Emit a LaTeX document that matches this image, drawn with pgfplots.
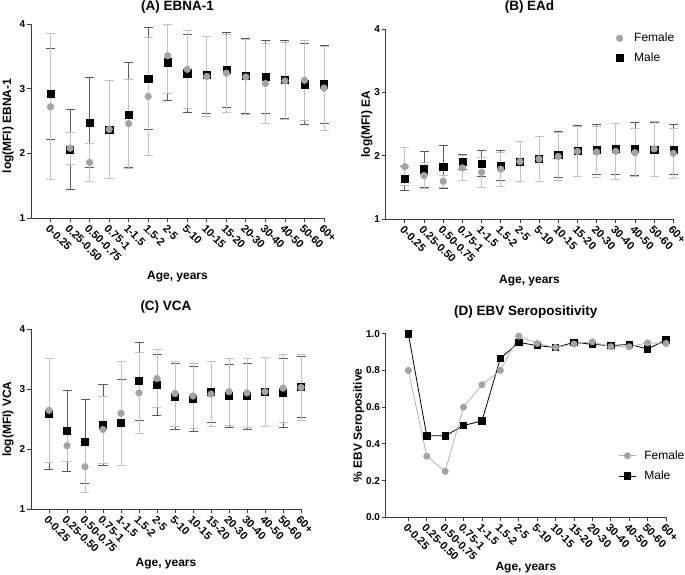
\documentclass[border=0pt]{standalone}
\usepackage{fontspec}
\setmainfont{Liberation Sans}
\usepackage{graphicx}
\usepackage{pgfplots}
\pgfplotsset{compat=1.18}
\usepackage{pgfplotstable}
\definecolor{femc}{HTML}{A3A3A3}
\definecolor{femerr}{HTML}{C2C2C2}
\definecolor{maleerr}{HTML}{5A5A5A}
\definecolor{axc}{HTML}{3A3A3A}

\pgfplotstableread{
x y ep em
0 2.92 0.70 0.70
1 2.06 0.62 0.62
2 2.48 0.70 0.70
3 2.37 0.76 0.76
4 2.60 0.81 0.81
5 3.16 0.79 0.79
6 3.41 0.59 0.59
7 3.24 0.60 0.60
8 3.21 0.60 0.60
9 3.29 0.58 0.58
10 3.20 0.58 0.58
11 3.18 0.56 0.56
12 3.14 0.60 0.60
13 3.07 0.63 0.63
14 3.07 0.60 0.60
}\ebnaM
\pgfplotstableread{
x y ep em
0 2.72 1.13 1.13
1 2.08 0.25 0.25
2 1.86 0.30 0.30
3 2.37 0.76 0.76
4 2.46 0.69 0.69
5 2.88 0.91 0.91
6 3.51 0.49 0.59
7 3.30 0.60 0.60
8 3.19 0.62 0.62
9 3.24 0.60 0.60
10 3.18 0.58 0.58
11 3.08 0.62 0.62
12 3.12 0.60 0.60
13 3.13 0.62 0.62
14 3.01 0.65 0.65
}\ebnaF
\pgfplotstableread{
x y ep em
0 1.64 0.19 0.19
1 1.79 0.28 0.28
2 1.83 0.34 0.34
3 1.91 0.12 0.12
4 1.88 0.21 0.21
5 1.85 0.24 0.24
6 1.91 0.32 0.32
7 1.95 0.35 0.35
8 2.02 0.36 0.36
9 2.08 0.40 0.40
10 2.10 0.39 0.39
11 2.11 0.40 0.40
12 2.11 0.41 0.41
13 2.10 0.43 0.43
14 2.10 0.39 0.39
}\eaM
\pgfplotstableread{
x y ep em
0 1.83 0.30 0.30
1 1.69 0.20 0.20
2 1.60 0.10 0.10
3 1.81 0.20 0.20
4 1.74 0.23 0.23
5 1.79 0.27 0.27
6 1.91 0.32 0.32
7 1.95 0.35 0.35
8 1.99 0.38 0.38
9 2.07 0.40 0.40
10 2.06 0.40 0.40
11 2.07 0.44 0.44
12 2.05 0.38 0.38
13 2.11 0.43 0.43
14 2.04 0.39 0.39
}\eaF
\pgfplotstableread{
x y ep em
0 2.59 0.92 0.92
1 2.31 0.67 0.67
2 2.13 0.70 0.70
3 2.41 0.67 0.67
4 2.45 0.72 0.72
5 3.14 0.65 0.65
6 3.08 0.51 0.51
7 2.88 0.55 0.55
8 2.84 0.54 0.54
9 2.96 0.51 0.51
10 2.89 0.53 0.53
11 2.89 0.55 0.55
12 2.96 0.57 0.57
13 2.94 0.58 0.58
14 3.04 0.51 0.51
}\vcaM
\pgfplotstableread{
x y ep em
0 2.65 0.87 0.87
1 2.06 0.26 0.26
2 1.71 0.42 0.42
3 2.33 0.56 0.56
4 2.60 0.86 0.86
5 2.94 0.67 0.67
6 3.18 0.48 0.48
7 2.93 0.54 0.54
8 2.89 0.54 0.54
9 2.92 0.54 0.54
10 2.96 0.56 0.56
11 2.94 0.57 0.57
12 2.96 0.57 0.57
13 3.02 0.57 0.57
14 3.03 0.55 0.55
}\vcaF
\pgfplotstableread{
x y
0 1.000
1 0.444
2 0.444
3 0.500
4 0.525
5 0.866
6 0.953
7 0.935
8 0.925
9 0.953
10 0.942
11 0.935
12 0.942
13 0.917
14 0.966
}\seroM
\pgfplotstableread{
x y
0 0.800
1 0.333
2 0.250
3 0.600
4 0.722
5 0.800
6 0.987
7 0.947
8 0.925
9 0.944
10 0.956
11 0.929
12 0.929
13 0.950
14 0.947
}\seroF

\pgfplotsset{
 panel/.style={
  scale only axis,
  axis lines=left,
  axis line style={-, color=axc, line width=0.8pt},
  every tick/.style={color=axc, line width=0.8pt},
  tick align=outside,
  major tick length=4pt,
  xmin=-1, xmax=14,
  xtick={0,...,14},
  xticklabels={0-0.25,0.25-0.50,0.50-0.75,0.75-1,1-1.5,1.5-2,2-5,5-10,10-15,15-20,20-30,30-40,40-50,50-60,60+},
  xticklabel style={rotate=-45, anchor=north west, inner sep=1pt, font=\fontsize{11}{11}\selectfont\bfseries},
  yticklabel style={inner sep=1.5pt, font=\fontsize{10}{10}\selectfont\bfseries},
  /pgf/number format/assume math mode=true,
  title style={font=\fontsize{13.5}{14}\selectfont\bfseries, anchor=center},
  xlabel={Age, years},
  label style={font=\fontsize{12}{12}\selectfont\bfseries},
  xlabel style={at={(axis description cs:0.5,0)}, anchor=center},
  ylabel style={at={(axis description cs:0,0.5)}, anchor=center},
  clip=false,
  reverse legend,
  legend cell align=left,
  legend style={draw=none, fill=none, font=\fontsize{12}{12}\selectfont, row sep=5pt, inner sep=0pt,
    /tikz/every odd column/.append style={column sep=9pt}},
 },
 malepts/.style={only marks, mark=square*, mark size=3.6pt, color=black, mark options={draw=black, fill=black},
   error bars/.cd, y dir=both, y explicit,
   error bar style={color=maleerr, line width=0.8pt},
   error mark options={rotate=90, mark size=4.5pt, color=maleerr, line width=0.8pt}},
 fempts/.style={only marks, mark=*, mark size=3.4pt, color=femc, mark options={draw=femc, fill=femc},
   error bars/.cd, y dir=both, y explicit,
   error bar style={color=femerr, line width=0.8pt},
   error mark options={rotate=90, mark size=4.5pt, color=femerr, line width=0.8pt}},
}

\begin{document}
\begin{tikzpicture}
\path[use as bounding box] (0pt,0pt) rectangle (685pt,-574pt);

% (A)
\begin{axis}[panel, at={(31pt,-218pt)}, anchor=south west,
  width=293pt, height=194pt, ymin=1, ymax=4, ytick={1,2,3,4},
  title={(A) EBNA-1}, title style={at={(axis description cs:0.5,1)}, yshift=11pt},
  ylabel={log(MFI) EBNA-1}, ylabel style={yshift=23pt, xshift=-5pt},
  xlabel style={yshift=-59pt}]
\addplot[malepts] table[x=x, y=y, y error plus=ep, y error minus=em] {\ebnaM};
\addplot[fempts] table[x=x, y=y, y error plus=ep, y error minus=em] {\ebnaF};
\end{axis}

% (B)
\begin{axis}[panel, at={(385.7pt,-219.3pt)}, anchor=south west,
  width=287.6pt, height=190.3pt, ymin=1, ymax=4, ytick={1,2,3,4},
  title={(B) EAd}, title style={at={(axis description cs:0.5,1)}, yshift=16pt},
  ylabel={log(MFI) EA}, ylabel style={yshift=19pt},
  xlabel style={yshift=-61pt},
  legend style={at={(axis description cs:0.80,0.99)}, anchor=north west}]
\addplot[malepts] table[x=x, y=y, y error plus=ep, y error minus=em] {\eaM};
\addlegendentry{Male}
\addplot[fempts] table[x=x, y=y, y error plus=ep, y error minus=em] {\eaF};
\addlegendentry{Female}
\end{axis}

% (C)
\begin{axis}[panel, at={(31pt,-509.3pt)}, anchor=south west,
  width=270pt, height=180pt, ymin=1, ymax=4, ytick={1,2,3,4},
  title={(C) VCA}, title style={at={(axis description cs:0.5,1)}, yshift=16pt},
  ylabel={log(MFI) VCA}, ylabel style={yshift=23pt},
  xlabel style={yshift=-54pt}]
\addplot[malepts] table[x=x, y=y, y error plus=ep, y error minus=em] {\vcaM};
\addplot[fempts] table[x=x, y=y, y error plus=ep, y error minus=em] {\vcaF};
\end{axis}

% (D)
\begin{axis}[panel, at={(385.7pt,-517.3pt)}, anchor=south west,
  width=280.3pt, height=183.6pt, xmin=-1.23, ymin=0, ymax=1, ytick={0,0.2,...,1.0},
  yticklabel={\pgfmathprintnumber[fixed, fixed zerofill, precision=1]{\tick}},
  title={(D) EBV Seropositivity}, title style={at={(axis description cs:0.5,1)}, yshift=16pt},
  ylabel={\% EBV Seropositive}, ylabel style={yshift=27pt},
  xlabel style={yshift=-50pt},
  legend style={at={(axis description cs:0.83,0.375)}, anchor=north west, row sep=6pt,
    /tikz/every odd column/.append style={column sep=6pt}},
  legend image code/.code={\draw[mark repeat=2, mark phase=2] plot coordinates {(0pt,0pt) (8.5pt,0pt) (17pt,0pt)};}]
\addplot[color=black, line width=0.8pt, mark=square*, mark size=3.2pt, mark options={fill=black}] table[x=x, y=y] {\seroM};
\addlegendentry{Male}
\addplot[color=femc!85!white, line width=0.8pt, mark=*, mark size=3.1pt, mark options={color=femc, fill=femc}] table[x=x, y=y] {\seroF};
\addlegendentry{Female}
\end{axis}
\end{tikzpicture}
\end{document}
